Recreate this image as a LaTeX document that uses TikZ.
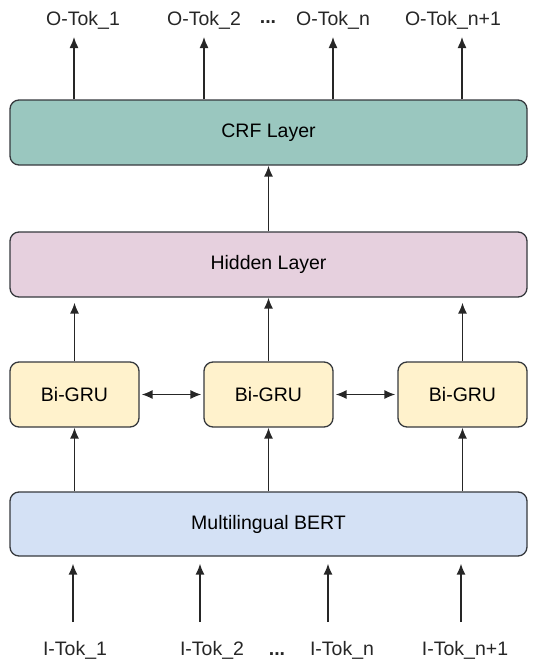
\documentclass[tikz,border=0pt]{standalone}
\usepackage{fontspec}
\setmainfont{Liberation Sans}
\usepackage{tikz}
\usetikzlibrary{arrows.meta}
\definecolor{crfgreen}{HTML}{9AC7BF}
\definecolor{hidpink}{HTML}{E6D0DE}
\definecolor{gruyellow}{HTML}{FFF2CC}
\definecolor{bertblue}{HTML}{D4E1F5}
\definecolor{edgegray}{HTML}{36393D}

\begin{document}
\begin{tikzpicture}[x=1pt,y=-1pt,font=\fontsize{19.5}{23}\selectfont,
      layer/.style={draw=edgegray,line width=1.3pt,rounded corners=9pt,
        minimum width=517pt,minimum height=65pt,inner sep=0pt},
      grubox/.style={layer,fill=gruyellow,minimum width=129pt},
      tok/.style={inner sep=0pt,text=black!85},
      flow/.style={-{Latex[length=11pt,width=9pt]},line width=1.4pt,black!85}]
      \useasboundingbox (0,0) rectangle (538,662);
      % layers, top to bottom
      \node[layer,fill=crfgreen] (crf) at (268.5,132.5) {CRF Layer};
      \node[layer,fill=hidpink] (hidden) at (268.5,264.5) {Hidden Layer};
      \node[grubox] (gru1) at (74.5,394.5) {Bi-GRU};
      \node[grubox] (gru2) at (268.5,394.5) {Bi-GRU};
      \node[grubox] (gru3) at (462.5,394.5) {Bi-GRU};
      \node[layer,fill=bertblue,minimum height=64pt] (bert) at (268.5,524) {Multilingual BERT};
      % output tokens
      \node[tok] (otok1) at (83,20) {O-Tok\_1};
      \node[tok] (otok2) at (204,20) {O-Tok\_2};
      \node[tok] (odots) at (268,22) {\textbf{...}};
      \node[tok] (otokn) at (333,20) {O-Tok\_n};
      \node[tok] (otokm) at (453,20) {O-Tok\_n+1};
      % input tokens
      \node[tok] (itok1) at (75,650) {I-Tok\_1};
      \node[tok] (itok2) at (212,650) {I-Tok\_2};
      \node[tok] (idots) at (277,654) {\textbf{...}};
      \node[tok] (itokn) at (342,650) {I-Tok\_n};
      \node[tok] (itokm) at (465,650) {I-Tok\_n+1};
      % free arrow ends
      \coordinate (o1) at (74,37);
      \coordinate (o2) at (204,37);
      \coordinate (on) at (333,37);
      \coordinate (om) at (462,37);
      \coordinate (i1) at (73,622);
      \coordinate (i2) at (200,622);
      \coordinate (in) at (328,622);
      \coordinate (im) at (461,622);
      % connectors
      \draw[flow] (crf.north -| o1) -- (o1);
      \draw[flow] (crf.north -| o2) -- (o2);
      \draw[flow] (crf.north -| on) -- (on);
      \draw[flow] (crf.north -| om) -- (om);
      \draw[flow] (hidden.north) -- (crf.south);
      \draw[flow,shorten >=5pt] (gru1.north) -- (hidden.south -| gru1.north);
      \draw[flow] (gru2.north) -- (hidden.south);
      \draw[flow,shorten >=5pt] (gru3.north) -- (hidden.south -| gru3.north);
      \draw[flow,{Latex[length=11pt,width=9pt]}-{Latex[length=11pt,width=9pt]},
        shorten <=2pt,shorten >=2pt] (gru1.east) -- (gru2.west);
      \draw[flow,{Latex[length=11pt,width=9pt]}-{Latex[length=11pt,width=9pt]},
        shorten <=2pt,shorten >=2pt] (gru2.east) -- (gru3.west);
      \draw[flow] (bert.north -| gru1.south) -- (gru1.south);
      \draw[flow] (bert.north) -- (gru2.south);
      \draw[flow] (bert.north -| gru3.south) -- (gru3.south);
      \draw[flow,shorten >=7pt] (i1) -- (bert.south -| i1);
      \draw[flow,shorten >=7pt] (i2) -- (bert.south -| i2);
      \draw[flow,shorten >=7pt] (in) -- (bert.south -| in);
      \draw[flow,shorten >=7pt] (im) -- (bert.south -| im);
    \end{tikzpicture}
\end{document}
